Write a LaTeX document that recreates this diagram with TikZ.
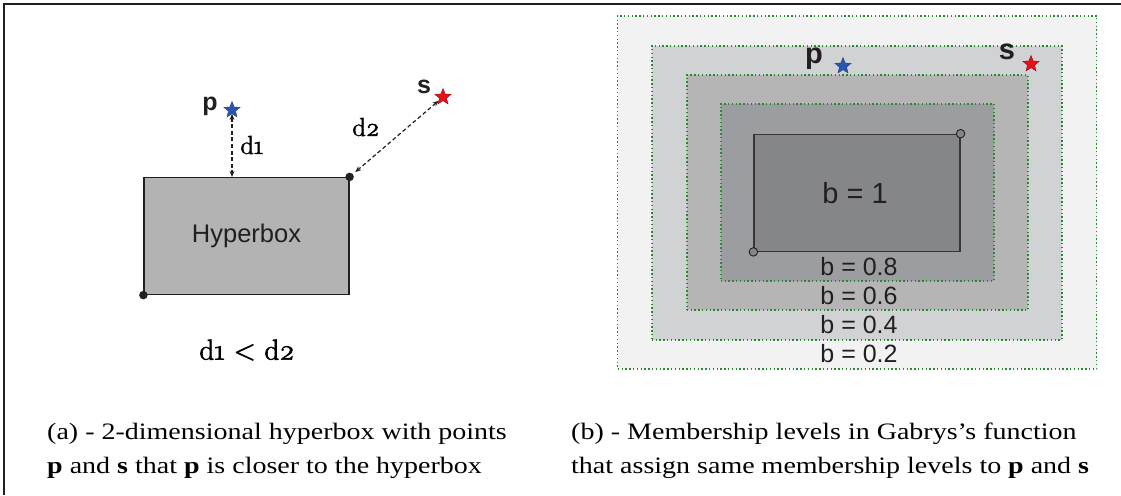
\documentclass[tikz,border=0pt]{standalone}
\usepackage{fontspec}
\setmainfont{Liberation Serif}
\newfontfamily\arial{Liberation Sans}
\newfontfamily\lmr[Numbers=OldStyle,FakeBold=2]{Latin Modern Roman}
\usetikzlibrary{shapes.geometric,arrows.meta}
\definecolor{txt}{HTML}{231F20}
\definecolor{hbgray}{HTML}{B3B3B3}
\definecolor{lvA}{HTML}{F2F2F2}
\definecolor{lvB}{HTML}{D1D2D4}
\definecolor{lvC}{HTML}{B5B5B5}
\definecolor{lvD}{HTML}{9C9DA0}
\definecolor{lvE}{HTML}{858688}
\definecolor{dotgreen}{HTML}{268A33}
\definecolor{sblue}{HTML}{2B55B5}
\definecolor{sred}{HTML}{E8101A}
\newcommand{\capline}[1]{\scalebox{1}[0.84]{#1}}
\begin{document}
\begin{tikzpicture}[x=1pt,y=-1pt,
  lvbox/.style={draw=dotgreen,line width=1.5pt,dash pattern=on 1.4pt off 2.4pt,inner sep=0pt,minimum width=#1},
  starbl/.style={star,star points=5,star point ratio=2.3,minimum size=17pt,inner sep=0pt,fill=sblue,draw=sblue!70!black,line width=0.4pt},
  starrd/.style={star,star points=5,star point ratio=2.3,minimum size=17pt,inner sep=0pt,fill=sred,draw=sred!60!black,line width=0.4pt},
  ptlbl/.style={font=\arial\bfseries\fontsize{25}{30}\selectfont,text=txt,inner sep=0pt},
  ptlblb/.style={font=\arial\bfseries\fontsize{29}{34}\selectfont,text=txt,inner sep=0pt},
  dlbl/.style={font=\lmr\fontsize{26}{30}\selectfont,text=black,inner sep=0pt},
  blbl/.style={font=\arial\fontsize{25}{30}\selectfont,text=txt,inner sep=0pt},
  dist/.style={dash pattern=on 4pt off 2.6pt,line width=1.2pt,draw=txt,{Stealth[length=6pt,width=5pt]}-{Stealth[length=6pt,width=5pt]}},
  captxt/.style={font=\fontsize{28}{32}\selectfont,text=black,inner sep=0pt,anchor=base west},
  cdot/.style={circle,fill=txt,inner sep=0pt,minimum size=8.5pt},
  odot/.style={circle,draw=txt,fill=lvE,line width=0.9pt,inner sep=0pt,minimum size=8.5pt}
]
\useasboundingbox (0,0) rectangle (1121,495);
% frame
\draw[line width=1.6pt,draw=txt] (4,495) -- (4,4) -- (1121,4);

% ---------- left panel ----------
\node[draw=txt,line width=1.2pt,fill=hbgray,minimum width=205pt,minimum height=117pt,inner sep=0pt,
      font=\arial\fontsize{25.5}{30}\selectfont,text=txt] (hb) at (246.5,236) {Hyperbox};
\node[cdot] (c1) at (hb.south west) {};
\node[cdot] (c2) at (hb.north east) {};
\node[starbl] (p) at (232,110) {};
\node[ptlbl] (pl) at (210,106) {p};
\node[starrd] (s) at (443,97) {};
\node[ptlbl] (sl) at (424,87) {s};
\draw[dist] (p.south) -- (p.south |- hb.north);
\draw[dist,shorten >=3pt] (s) -- (c2);
\node[dlbl] (d1) at (252,145) {d1};
\node[dlbl] (d2) at (366,127) {d2};
\node[font=\lmr\fontsize{29}{32}\selectfont,text=black,inner sep=0pt] (ineq) at (247,350) {d1 \textless{} d2};

% ---------- right panel ----------
\node[lvbox=479pt,minimum height=353pt,fill=lvA] (L1) at (857.2,192.3) {};
\node[lvbox=410pt,minimum height=294pt,fill=lvB] (L2) at (856.8,192.8) {};
\node[lvbox=341pt,minimum height=235pt,fill=lvC] (L3) at (857.3,192.5) {};
\node[lvbox=273pt,minimum height=177pt,fill=lvD] (L4) at (857.3,192.3) {};
\node[draw=txt!90,line width=1.2pt,fill=lvE,minimum width=206pt,minimum height=117pt,inner sep=0pt] (L5) at (857,192.8) {};
\node[odot] (o1) at (L5.south west) {};
\node[odot] (o2) at (L5.north east) {};
\node[font=\arial\fontsize{29}{32}\selectfont,text=txt,inner sep=0pt] (b1) at (855,193) {b = 1};
\node[blbl] (b8) at (859,267) {b = 0.8};
\node[blbl] (b6) at (859,296) {b = 0.6};
\node[blbl] (b4) at (859,325) {b = 0.4};
\node[blbl] (b2) at (859,354) {b = 0.2};
\node[starbl] (p2) at (843,66) {};
\node[ptlblb] (pl2) at (814,59) {p};
\node[starrd] (s2) at (1031,64) {};
\node[ptlblb] (sl2) at (1007,52) {s};

% ---------- captions ----------
\node[captxt] (ca1) at (47,439) {\capline{(a) - 2-dimensional hyperbox with points}};
\node[captxt] (ca2) at (47,473) {\capline{\textbf{p} and \textbf{s} that \textbf{p} is closer to the hyperbox}};
\node[captxt] (cb1) at (571,439) {\capline{(b) - Membership levels in Gabrys's function}};
\node[captxt] (cb2) at (571,473) {\capline{that assign same membership levels to \textbf{p} and \textbf{s}}};
\end{tikzpicture}
\end{document}
